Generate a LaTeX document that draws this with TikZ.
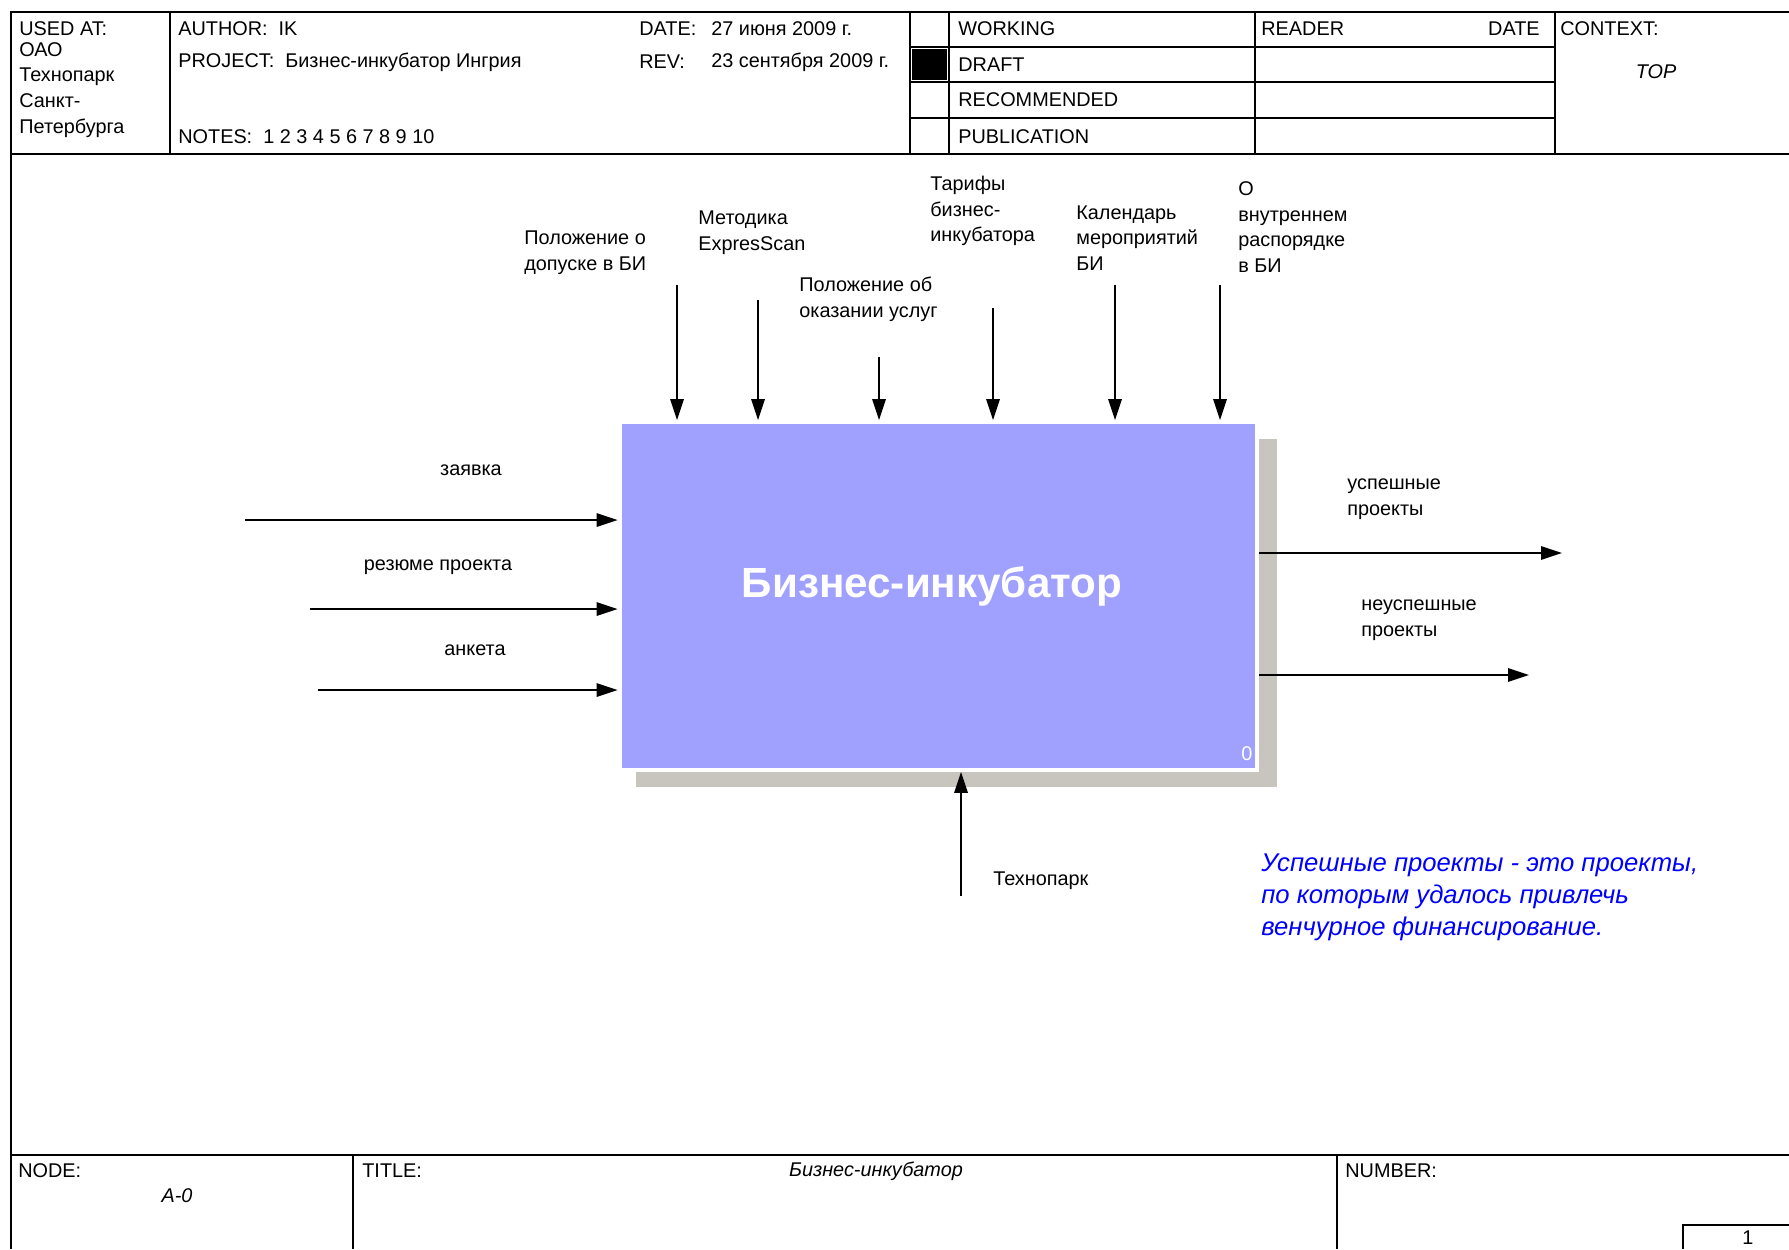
\documentclass[tikz,border=0pt]{standalone}
\usepackage{fontspec}
\setmainfont{Liberation Sans}
\usetikzlibrary{arrows.meta, positioning, calc}
\definecolor{idefblue}{RGB}{160, 160, 255}
\definecolor{idefshadow}{RGB}{200, 197, 190}
\definecolor{noteblue}{RGB}{0, 0, 255}
\tikzstyle{frameline} = [line width=1.1pt, black]
\tikzstyle{lbl} = [inner sep=0pt, anchor=west, align=left, font=\fontsize{11.3}{14.7}\selectfont]
\tikzstyle{clbl} = [inner sep=0pt, align=center, font=\fontsize{11.3}{14.7}\selectfont]
\tikzstyle{func} = [rectangle, fill=idefblue, draw=white, line width=2.5pt, inner sep=0pt,
                    minimum width=12.75cm, minimum height=6.95cm]
\tikzstyle{arrow} = [-{Triangle[length=0.42cm, width=0.27cm]}, line width=0.9pt]

\begin{document}
\begin{tikzpicture}[x=0.02cm, y=-0.02cm]

% Page
\fill[white] (0,0) rectangle (1789,1249);
\useasboundingbox (0,0) rectangle (1789,1249);

% Frame
\draw[frameline] (11,1249) -- (11,12) -- (1789,12);
\draw[frameline] (11,154) -- (1789,154);
\draw[frameline] (11,1155) -- (1789,1155);

% Header grid
\draw[frameline] (170,12) -- (170,154);
\draw[frameline] (910,12) -- (910,154);
\draw[frameline] (949,12) -- (949,154);
\draw[frameline] (1255,12) -- (1255,154);
\draw[frameline] (1555,12) -- (1555,154);
\draw[frameline] (910,47) -- (1555,47);
\draw[frameline] (910,82) -- (1555,82);
\draw[frameline] (910,118) -- (1555,118);
\fill[black] (912,49) rectangle (947,80);

% Header texts
\node[lbl] (usedat) at (19,29) {USED AT:};
\node[lbl] (usedatval) at (19,90) {ОАО\\Технопарк\\Санкт-\\Петербурга};
\node[lbl] (author) at (178,29) {AUTHOR:~~IK};
\node[lbl] (project) at (178,62) {PROJECT:~~Бизнес-инкубатор Ингрия};
\node[lbl] (notes) at (178,137) {NOTES:~~1 2 3 4 5 6 7 8 9 10};
\node[lbl] (date) at (639,29) {DATE:};
\node[lbl] (dateval) at (711,29) {27 июня 2009 г.};
\node[lbl] (rev) at (639,62) {REV:};
\node[lbl] (revval) at (711,62) {23 сентября 2009 г.};
\node[lbl] (working) at (958,29) {WORKING};
\node[lbl] (draft) at (958,65) {DRAFT};
\node[lbl] (recommended) at (958,100) {RECOMMENDED};
\node[lbl] (publication) at (958,137) {PUBLICATION};
\node[lbl] (reader) at (1261,29) {READER};
\node[lbl, anchor=east] (readerdate) at (1540,29) {DATE};
\node[lbl] (context) at (1560,29) {CONTEXT:};
\node[clbl, font=\fontsize{11.3}{14.7}\selectfont\itshape] (contextval) at (1656,72) {TOP};

% Function box
\fill[idefshadow] (636,439) rectangle (1277,787);
\node[func] (func) at (938.5,596) {};
\node[font=\fontsize{24}{29}\selectfont\bfseries, white, inner sep=0pt] (functitle) at (932,586) {Бизнес-инкубатор};
\node[lbl, white] (funcnum) at (1241,754) {0};

% Controls
\coordinate (ctrl1) at (677,285);
\coordinate (ctrl2) at (758,300);
\coordinate (ctrl3) at (879,357);
\coordinate (ctrl4) at (993,308);
\coordinate (ctrl5) at (1115,285);
\coordinate (ctrl6) at (1220,285);
\foreach \c in {ctrl1,ctrl2,ctrl3,ctrl4,ctrl5,ctrl6}
  \draw[arrow] (\c) -- (\c |- func.north);
\node[lbl] (lctrl1) at (524,253) {Положение о\\допуске в БИ};
\node[lbl] (lctrl2) at (698,233) {Методика\\ExpresScan};
\node[lbl] (lctrl3) at (799,299) {Положение об\\оказании услуг};
\node[lbl] (lctrl4) at (930,211) {Тарифы\\бизнес-\\инкубатора};
\node[lbl] (lctrl5) at (1076,238) {Календарь\\мероприятий\\БИ};
\node[lbl] (lctrl6) at (1238,227) {О\\внутреннем\\распорядке\\в БИ};

% Inputs
\coordinate (in1) at (245,520);
\coordinate (in2) at (310,609);
\coordinate (in3) at (318,690);
\foreach \c in {in1,in2,in3}
  \draw[arrow] (\c) -- (\c -| func.west);
\node[clbl] (lin1) at (471,470) {заявка};
\node[clbl] (lin2) at (438,567) {резюме проекта};
\node[clbl] (lin3) at (475,650) {анкета};

% Outputs
\coordinate (out1) at (1562,553);
\coordinate (out2) at (1529,675);
\draw[arrow] (out1 -| func.east) -- (out1);
\draw[arrow] (out2 -| func.east) -- (out2);
\node[lbl] (lout1) at (1347,499) {успешные\\проекты};
\node[lbl] (lout2) at (1361,620) {неуспешные\\проекты};

% Mechanism
\coordinate (mech) at (961,896);
\draw[arrow] (mech) -- (mech |- func.south);
\node[lbl] (lmech) at (993,881) {Технопарк};

% Note
\node[lbl, noteblue, font=\fontsize{14.6}{18.3}\selectfont\itshape] (note) at (1261,897)
  {Успешные проекты - это проекты,\\по которым удалось привлечь\\венчурное финансирование.};

% Footer
\draw[frameline] (353,1155) -- (353,1249);
\draw[frameline] (1337,1155) -- (1337,1249);
\draw[frameline] (1683,1249) -- (1683,1225) -- (1789,1225);
\node[lbl] (nodelbl) at (18,1171) {NODE:};
\node[clbl, font=\fontsize{11.3}{14.7}\selectfont\itshape] (nodeval) at (177,1196) {A-0};
\node[lbl] (titlelbl) at (362,1171) {TITLE:};
\node[clbl, font=\fontsize{11.3}{14.7}\selectfont\itshape] (titleval) at (876,1171) {Бизнес-инкубатор};
\node[lbl] (numberlbl) at (1345,1171) {NUMBER:};
\node[clbl] (numberval) at (1748,1238) {1};

\end{tikzpicture}
\end{document}
